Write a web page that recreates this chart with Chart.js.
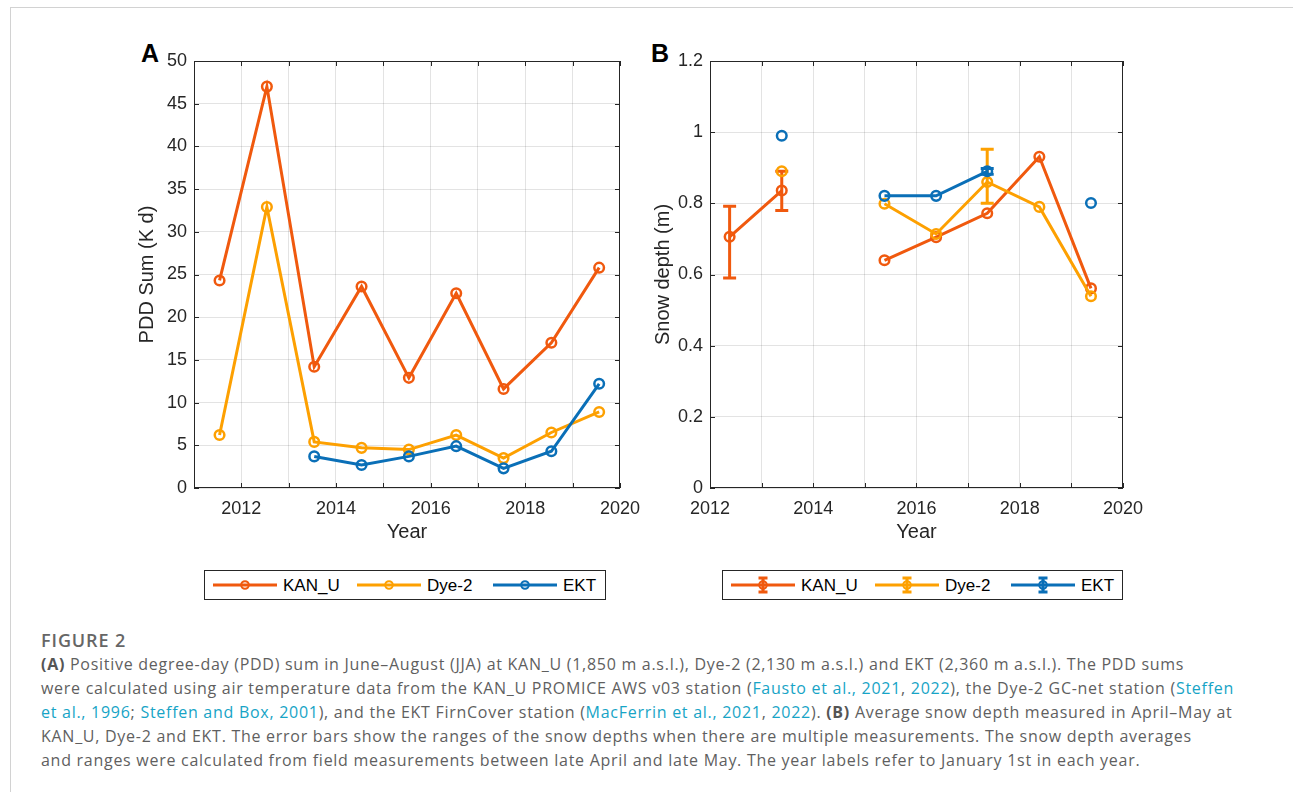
<!DOCTYPE html>
<html>
<head>
<meta charset="utf-8">
<script src="https://cdn.jsdelivr.net/npm/chart.js@4.4.0/dist/chart.umd.min.js"></script>
<style>
  body { margin: 0; background: #fff; width: 1293px; height: 792px; overflow: hidden; position: relative; }
  .frame { position: absolute; left: 10px; top: 7px; width: 1300px; height: 800px;
           border-left: 1px solid #d2d2d2; border-top: 1px solid #d2d2d2; }
  canvas { position: absolute; }
  #chartA { left: 130px; top: 40px; }
  #chartB { left: 646px; top: 40px; }
  .panel-label { position: absolute; font: bold 25px 'Liberation Sans', Arial, sans-serif; color: #000; line-height: 1; }
  .legend { position: absolute; top: 570px; }
  .legend text { font: 17px 'Liberation Sans', Arial, sans-serif; fill: #000; }
  .caption { position: absolute; left: 41px; top: 628px; font-family: 'Open Sans', sans-serif;
             color: #5f5f5f; font-size: 16px; line-height: 24px; white-space: nowrap; }
  .caption .fig { font-weight: 600; font-size: 18px; color: #666; letter-spacing: 0.9px; }
  .caption a { color: #17a4c6; text-decoration: none; }
  .caption b { font-weight: 700; color: #555; }
</style>
</head>
<body>
<div class="frame"></div>
<div class="panel-label" style="left:141px; top:41px;">A</div>
<div class="panel-label" style="left:651px; top:41px;">B</div>
<canvas id="chartA" width="520" height="504"></canvas>
<canvas id="chartB" width="507" height="504"></canvas>
<svg class="legend" id="legendA" style="left:204px;" width="402" height="30"></svg>
<svg class="legend" id="legendB" style="left:722px;" width="401" height="30"></svg>

<div class="caption" id="caption">
  <div class="fig">FIGURE 2</div>
  <div class="ln"><b>(A)</b> Positive degree-day (PDD) sum in June–August (JJA) at KAN_U (1,850 m a.s.l.), Dye-2 (2,130 m a.s.l.) and EKT (2,360 m a.s.l.). The PDD sums</div>
  <div class="ln" id="fitLine">were calculated using air temperature data from the KAN_U PROMICE AWS v03 station (<a>Fausto et al., 2021</a>, <a>2022</a>), the Dye-2 GC-net station (<a>Steffen</a></div>
  <div class="ln"><a>et al., 1996</a>; <a>Steffen and Box, 2001</a>), and the EKT FirnCover station (<a>MacFerrin et al., 2021</a>, <a>2022</a>). <b>(B)</b> Average snow depth measured in April–May at</div>
  <div class="ln">KAN_U, Dye-2 and EKT. The error bars show the ranges of the snow depths when there are multiple measurements. The snow depth averages</div>
  <div class="ln">and ranges were calculated from field measurements between late April and late May. The year labels refer to January 1st in each year.</div>
</div>

<script>
// ---- data -------------------------------------------------------------
const stations = ['KAN_U', 'Dye-2', 'EKT'];
const stationColors = ['#F0590E', '#FDA001', '#0A6FB7'];

// (A) PDD sums, plotted at mid-summer of each year
const pddDates = [2011.54, 2012.54, 2013.54, 2014.54, 2015.54, 2016.54, 2017.54, 2018.55, 2019.56];
const pddKanU = [24.3, 47.0, 14.2, 23.6, 12.9, 22.8, 11.6, 17.0, 25.8];
const pddDye2 = [6.2, 32.9, 5.4, 4.7, 4.5, 6.2, 3.5, 6.5, 8.9];
const pddEkt = [null, null, 3.7, 2.7, 3.7, 4.9, 2.3, 4.3, 12.2];

// (B) snow depth in April-May
const snowDates = [2012.38, 2013.39, 2014.38, 2015.38, 2016.38, 2017.37, 2018.38, 2019.38];
const snowKanU = [0.706, 0.836, null, 0.64, 0.705, 0.772, 0.931, 0.561];
const snowDye2 = [null, 0.89, null, 0.799, 0.714, 0.86, 0.79, 0.539];
const snowEkt = [null, 0.99, null, 0.821, 0.821, 0.89, null, 0.801];

// ranges (error bars) where there were multiple measurements
const snowKanULow = [0.59, 0.78, null, null, null, null, null, null];
const snowKanUHigh = [0.792, 0.89, null, null, null, null, null, null];
const snowDye2Low = [null, null, null, null, null, 0.80, null, null];
const snowDye2High = [null, null, null, null, null, 0.952, null, null];
const snowEktLow = [null, null, null, null, null, 0.882, null, null];
const snowEktHigh = [null, null, null, null, null, 0.898, null, null];

const labelledYears = [2012, 2014, 2016, 2018, 2020];

// ---- helpers ----------------------------------------------------------
const FONT = "'Liberation Sans', Arial, sans-serif";
const INK = '#262626';

function toPoints(dates, values) {
  return dates.map((d, i) => ({ x: d, y: values[i] }));
}

function lineDataset(label, idx, dates, values, low, high) {
  return {
    label,
    data: toPoints(dates, values),
    borderColor: stationColors[idx],
    backgroundColor: stationColors[idx],
    borderWidth: 3,
    pointRadius: 4.8,
    pointBorderWidth: 2.5,
    pointBackgroundColor: 'rgba(0,0,0,0)',
    pointBorderColor: stationColors[idx],
    spanGaps: false,
    tension: 0,
    order: 3 - idx,   // EKT on top, like MATLAB plot order
    errLow: low,
    errHigh: high,
  };
}

// error bars for panel B, drawn under the markers
const errorBarPlugin = {
  id: 'errorBars',
  beforeDatasetsDraw(chart) {
    const { ctx, scales: { x, y } } = chart;
    chart.data.datasets.forEach((ds) => {
      if (!ds.errLow) return;
      ctx.save();
      ctx.strokeStyle = ds.borderColor;
      ctx.lineWidth = 3;
      ds.errLow.forEach((lo, i) => {
        const hi = ds.errHigh[i];
        if (lo == null || hi == null) return;
        const px = x.getPixelForValue(ds.data[i].x);
        const top = y.getPixelForValue(hi);
        const bot = y.getPixelForValue(lo);
        ctx.beginPath();
        ctx.moveTo(px, top); ctx.lineTo(px, bot);
        ctx.moveTo(px - 6.5, top); ctx.lineTo(px + 6.5, top);
        ctx.moveTo(px - 6.5, bot); ctx.lineTo(px + 6.5, bot);
        ctx.stroke();
      });
      ctx.restore();
    });
  },
};

// MATLAB style box with inward tick marks on all four sides
const boxPlugin = {
  id: 'box',
  beforeDatasetsDraw(chart) {
    const { ctx, chartArea: a, scales } = chart;
    const len = 5;
    ctx.save();
    ctx.strokeStyle = INK;
    ctx.lineWidth = 1;
    ctx.strokeRect(Math.round(a.left) + 0.5, Math.round(a.top) + 0.5,
      Math.round(a.width) - 1, Math.round(a.height) - 1);
    ctx.beginPath();
    scales.x.ticks.forEach((t) => {
      const px = Math.round(scales.x.getPixelForValue(t.value)) + 0.5;
      ctx.moveTo(px, a.bottom); ctx.lineTo(px, a.bottom - len);
      ctx.moveTo(px, a.top); ctx.lineTo(px, a.top + len);
    });
    scales.y.ticks.forEach((t) => {
      const py = Math.round(scales.y.getPixelForValue(t.value)) + 0.5;
      ctx.moveTo(a.left, py); ctx.lineTo(a.left + len, py);
      ctx.moveTo(a.right, py); ctx.lineTo(a.right - len, py);
    });
    ctx.stroke();
    ctx.restore();
  },
};

function makeChart(canvasId, datasets, xRange, yRange, yStep, yTitle, yFormat) {
  return new Chart(document.getElementById(canvasId), {
    type: 'line',
    data: { datasets },
    plugins: [boxPlugin, errorBarPlugin],
    options: {
      responsive: false,
      animation: false,
      layout: { padding: { top: 21, right: 26, left: 0, bottom: 0 } },
      plugins: { legend: { display: false }, tooltip: { enabled: false } },
      scales: {
        x: {
          type: 'linear',
          min: xRange[0],
          max: xRange[1],
          afterFit(s) { s.height = 56; },
          border: { display: false },
          grid: { color: 'rgba(0,0,0,0.11)', drawTicks: false },
          ticks: {
            stepSize: 1,
            autoSkip: false,
            maxRotation: 0,
            padding: 10,
            color: INK,
            font: { family: FONT, size: 18 },
            callback: (v) => (labelledYears.includes(v) ? String(v) : ''),
          },
          title: {
            display: true, text: 'Year', color: INK,
            font: { family: FONT, size: 20 }, padding: { top: 0, bottom: 0 },
          },
        },
        y: {
          min: yRange[0],
          max: yRange[1],
          afterFit(s) { s.width = 64; },
          border: { display: false },
          grid: { color: 'rgba(0,0,0,0.11)', drawTicks: false },
          ticks: {
            stepSize: yStep,
            padding: 7,
            color: INK,
            font: { family: FONT, size: 18 },
            callback: yFormat,
          },
          title: {
            display: true, text: yTitle, color: INK,
            font: { family: FONT, size: 20 }, padding: { top: 5, bottom: 0 },
          },
        },
      },
    },
  });
}

// ---- panel A ----------------------------------------------------------
makeChart('chartA', [
  lineDataset(stations[0], 0, pddDates, pddKanU),
  lineDataset(stations[1], 1, pddDates, pddDye2),
  lineDataset(stations[2], 2, pddDates, pddEkt),
], [2011, 2020], [0, 50], 5, 'PDD Sum (K d)', (v) => String(v));

// ---- panel B ----------------------------------------------------------
makeChart('chartB', [
  lineDataset(stations[0], 0, snowDates, snowKanU, snowKanULow, snowKanUHigh),
  lineDataset(stations[1], 1, snowDates, snowDye2, snowDye2Low, snowDye2High),
  lineDataset(stations[2], 2, snowDates, snowEkt, snowEktLow, snowEktHigh),
], [2012, 2020], [0, 1.2], 0.2, 'Snow depth (m)', (v) => String(+v.toFixed(1)));

// ---- legends (line + marker sample, boxed, below each panel) ----------
function buildLegend(svgId, withErrorBar) {
  const svg = document.getElementById(svgId);
  const w = +svg.getAttribute('width');
  const ns = 'http://www.w3.org/2000/svg';
  const add = (tag, attrs, text) => {
    const el = document.createElementNS(ns, tag);
    Object.entries(attrs).forEach(([k, v]) => el.setAttribute(k, v));
    if (text) el.textContent = text;
    svg.appendChild(el);
    return el;
  };
  add('rect', { x: 0.5, y: 0.5, width: w - 1, height: 29, fill: '#fff', stroke: INK, 'stroke-width': 1 });
  const itemStarts = [9, 153, 289];
  stations.forEach((name, i) => {
    const x0 = itemStarts[i];
    const c = stationColors[i];
    const mid = x0 + 32;
    add('line', { x1: x0, y1: 15, x2: x0 + 64, y2: 15, stroke: c, 'stroke-width': 3 });
    if (withErrorBar) {
      add('path', { d: `M${mid} 8V22M${mid - 4.5} 8H${mid + 4.5}M${mid - 4.5} 22H${mid + 4.5}`,
        stroke: c, 'stroke-width': 3, fill: 'none' });
    }
    add('circle', { cx: mid, cy: 15, r: 3.8, fill: 'none', stroke: c, 'stroke-width': 2 });
    add('text', { x: x0 + 70, y: 21 }, name);
  });
}
buildLegend('legendA', false);
buildLegend('legendB', true);

// stretch caption letter spacing so line widths match the figure's text block
function fitCaption() {
  const line = document.getElementById('fitLine');
  const target = 1193;
  const w = line.getBoundingClientRect().width;
  const chars = line.textContent.length;
  const ls = (target - w) / chars;
  document.querySelectorAll('#caption .ln').forEach((el) => {
    el.style.letterSpacing = ls.toFixed(3) + 'px';
  });
}
fitCaption();
if (document.fonts && document.fonts.ready) document.fonts.ready.then(() => {
  document.querySelectorAll('#caption .ln').forEach((el) => { el.style.letterSpacing = '0px'; });
  fitCaption();
});
</script>
</body>
</html>
